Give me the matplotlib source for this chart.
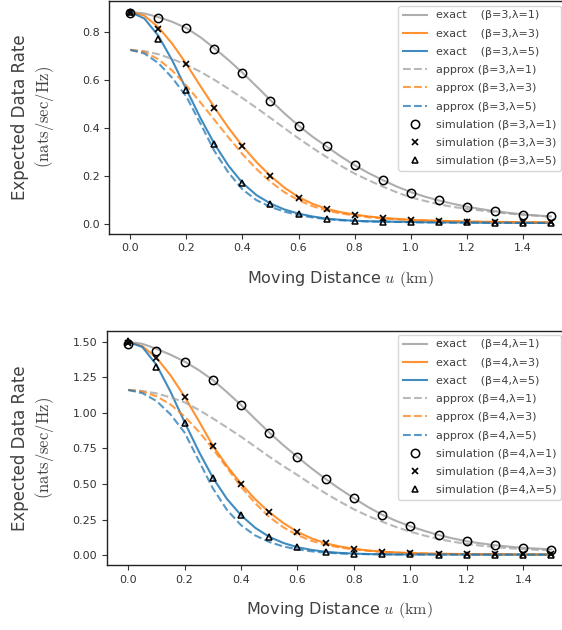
import numpy as np
import matplotlib
matplotlib.use("Agg")
import matplotlib.pyplot as plt
from matplotlib.transforms import blended_transform_factory

plt.rcParams['mathtext.fontset'] = 'cm'

# ---------------- data ----------------
u_curve = [round(0.05 * i, 2) for i in range(31)]
u_sim = [round(0.1 * i, 1) for i in range(16)]

# beta = 3
exact3_l1 = [0.885, 0.879, 0.864, 0.844, 0.818, 0.780, 0.734, 0.685, 0.632, 0.575, 0.517,
             0.462, 0.411, 0.365, 0.324, 0.283, 0.246, 0.213, 0.184, 0.157, 0.134,
             0.115, 0.099, 0.085, 0.073, 0.063, 0.054, 0.047, 0.041, 0.036, 0.032]
exact3_l3 = [0.885, 0.870, 0.822, 0.752, 0.668, 0.576, 0.487, 0.402, 0.326, 0.259, 0.201,
             0.152, 0.113, 0.085, 0.064, 0.050, 0.040, 0.032, 0.026, 0.022, 0.018,
             0.016, 0.014, 0.012, 0.011, 0.010, 0.009, 0.009, 0.008, 0.008, 0.007]
exact3_l5 = [0.885, 0.858, 0.786, 0.682, 0.562, 0.443, 0.335, 0.244, 0.172, 0.121, 0.086,
             0.061, 0.044, 0.032, 0.023, 0.018, 0.014, 0.012, 0.011, 0.010, 0.009,
             0.008, 0.008, 0.007, 0.007, 0.006, 0.006, 0.006, 0.005, 0.005, 0.005]
approx3_l1 = [0.727, 0.722, 0.709, 0.689, 0.665, 0.636, 0.602, 0.565, 0.526, 0.485, 0.443,
              0.400, 0.358, 0.318, 0.280, 0.244, 0.211, 0.183, 0.157, 0.133, 0.112,
              0.097, 0.083, 0.072, 0.064, 0.057, 0.050, 0.044, 0.039, 0.035, 0.031]
approx3_l3 = [0.727, 0.718, 0.688, 0.640, 0.578, 0.508, 0.435, 0.362, 0.292, 0.230, 0.177,
              0.133, 0.100, 0.075, 0.057, 0.045, 0.036, 0.029, 0.024, 0.020, 0.017,
              0.015, 0.013, 0.012, 0.011, 0.010, 0.009, 0.008, 0.008, 0.007, 0.007]
approx3_l5 = [0.727, 0.712, 0.672, 0.610, 0.532, 0.420, 0.305, 0.215, 0.145, 0.100, 0.072,
              0.052, 0.038, 0.028, 0.021, 0.016, 0.013, 0.011, 0.010, 0.009, 0.008,
              0.007, 0.007, 0.006, 0.006, 0.006, 0.005, 0.005, 0.005, 0.005, 0.005]
sim3_l1 = [0.880, 0.859, 0.818, 0.732, 0.632, 0.515, 0.409, 0.326, 0.245, 0.185, 0.131,
           0.100, 0.071, 0.053, 0.040, 0.033]
sim3_l3 = [0.882, 0.815, 0.667, 0.486, 0.326, 0.202, 0.110, 0.064, 0.040, 0.026, 0.018,
           0.014, 0.011, 0.010, 0.008, 0.007]
sim3_l5 = [0.884, 0.771, 0.559, 0.334, 0.171, 0.086, 0.043, 0.022, 0.014, 0.011, 0.008,
           0.007, 0.007, 0.005, 0.005, 0.005]

# beta = 4
exact4_l1 = [1.500, 1.487, 1.452, 1.410, 1.362, 1.302, 1.232, 1.147, 1.056, 0.958, 0.862,
             0.773, 0.690, 0.610, 0.535, 0.465, 0.400, 0.338, 0.284, 0.240, 0.202,
             0.170, 0.141, 0.117, 0.097, 0.082, 0.069, 0.059, 0.051, 0.045, 0.040]
exact4_l3 = [1.500, 1.470, 1.390, 1.265, 1.115, 0.945, 0.770, 0.627, 0.502, 0.393, 0.301,
             0.225, 0.163, 0.117, 0.083, 0.060, 0.044, 0.032, 0.024, 0.018, 0.014,
             0.011, 0.009, 0.008, 0.007, 0.006, 0.005, 0.005, 0.004, 0.004, 0.004]
exact4_l5 = [1.500, 1.465, 1.340, 1.150, 0.935, 0.730, 0.545, 0.395, 0.280, 0.192, 0.128,
             0.085, 0.055, 0.036, 0.023, 0.015, 0.010, 0.007, 0.005, 0.004, 0.004,
             0.004, 0.004, 0.004, 0.003, 0.003, 0.003, 0.003, 0.003, 0.003, 0.003]
approx4_l1 = [1.162, 1.155, 1.138, 1.110, 1.075, 1.022, 0.962, 0.898, 0.833, 0.763, 0.692,
              0.626, 0.563, 0.497, 0.434, 0.376, 0.322, 0.275, 0.235, 0.197, 0.164,
              0.137, 0.113, 0.094, 0.078, 0.066, 0.056, 0.048, 0.042, 0.037, 0.033]
approx4_l3 = [1.162, 1.150, 1.118, 1.060, 0.975, 0.870, 0.748, 0.615, 0.480, 0.365, 0.268,
              0.195, 0.140, 0.100, 0.072, 0.053, 0.040, 0.030, 0.022, 0.017, 0.013,
              0.010, 0.008, 0.007, 0.006, 0.005, 0.005, 0.004, 0.004, 0.004, 0.004]
approx4_l5 = [1.162, 1.140, 1.085, 0.990, 0.862, 0.665, 0.470, 0.318, 0.210, 0.138, 0.092,
              0.060, 0.040, 0.026, 0.017, 0.011, 0.008, 0.006, 0.005, 0.004, 0.004,
              0.004, 0.004, 0.003, 0.003, 0.003, 0.003, 0.003, 0.003, 0.003, 0.003]
sim4_l1 = [1.486, 1.439, 1.361, 1.232, 1.054, 0.861, 0.692, 0.535, 0.401, 0.282, 0.202,
           0.141, 0.096, 0.068, 0.052, 0.035]
sim4_l3 = [1.495, 1.385, 1.115, 0.768, 0.502, 0.301, 0.162, 0.082, 0.044, 0.023, 0.014,
           0.008, 0.006, 0.005, 0.004, 0.004]
sim4_l5 = [1.505, 1.326, 0.932, 0.545, 0.279, 0.127, 0.054, 0.021, 0.008, 0.005, 0.004,
           0.003, 0.003, 0.003, 0.003, 0.003]

lambdas = [1, 3, 5]
xticks = [0.0, 0.2, 0.4, 0.6, 0.8, 1.0, 1.2, 1.4]
yticks_top = [0.0, 0.2, 0.4, 0.6, 0.8]
yticks_bot = [0.00, 0.25, 0.50, 0.75, 1.00, 1.25, 1.50]

# ---------------- style ----------------
colors = ['#a0a0a0', '#ff7f0e', '#1f77b4']
sim_markers = ['o', 'x', '^']
text_col = '#404040'
tick_col = '#333333'

fig = plt.figure(figsize=(5.62, 6.3), dpi=100)
ax_top = fig.add_axes([0.1945, 0.6290, 0.8230, 0.3694])
ax_bot = fig.add_axes([0.1904, 0.1032, 0.8285, 0.3714])


def draw(ax, beta, exact, approx, sims, yticks, yfmt, leg_anchor):
    for lam, yv, c in zip(lambdas, exact, colors):
        ax.plot(u_curve, yv, '-', color=c, lw=1.5, alpha=0.85,
                label=f'exact    (β={beta},λ={lam})')
    for lam, yv, c in zip(lambdas, approx, colors):
        ax.plot(u_curve, yv, '--', color=c, lw=1.5, alpha=0.75,
                label=f'approx (β={beta},λ={lam})')
    for lam, yv, m in zip(lambdas, sims, sim_markers):
        if m == 'x':
            ax.plot(u_sim, yv, linestyle='none', marker=m, color='black',
                    markersize=5, markeredgewidth=1.2,
                    label=f'simulation (β={beta},λ={lam})')
        else:
            ax.plot(u_sim, yv, linestyle='none', marker=m, markerfacecolor='none',
                    markeredgecolor='black', markersize=6 if m == 'o' else 5,
                    markeredgewidth=1.1,
                    label=f'simulation (β={beta},λ={lam})')
    ax.set_xticks(xticks)
    ax.set_yticks(yticks)
    ax.set_yticklabels([yfmt % v for v in yticks])
    ax.tick_params(labelsize=8, colors=tick_col, labelcolor=tick_col)
    for sp in ax.spines.values():
        sp.set_color('#222222')
        sp.set_linewidth(1.0)
    ax.set_xlabel('Moving Distance $u$ $\\mathrm{(km)}$', fontsize=11.5,
                  color=text_col, labelpad=11)
    ax.set_ylabel('Expected Data Rate\n$\\mathrm{(nats/sec/Hz)}$', fontsize=12,
                  color=text_col, linespacing=1.25)
    ax.yaxis.set_label_coords(56 / 562, 0.5,
                              transform=blended_transform_factory(fig.transFigure, ax.transAxes))
    leg = ax.legend(loc='upper right', fontsize=8, handlelength=2.2,
                    labelspacing=0.74, borderaxespad=0.0, framealpha=0.8,
                    bbox_to_anchor=leg_anchor, bbox_transform=fig.transFigure)
    for t in leg.get_texts():
        t.set_color(text_col)


draw(ax_top, 3, [exact3_l1, exact3_l3, exact3_l5],
     [approx3_l1, approx3_l3, approx3_l5],
     [sim3_l1, sim3_l3, sim3_l5], yticks_top, '%.1f', (561 / 562, 1 - 6 / 630))
draw(ax_bot, 4, [exact4_l1, exact4_l3, exact4_l5],
     [approx4_l1, approx4_l3, approx4_l5],
     [sim4_l1, sim4_l3, sim4_l5], yticks_bot, '%.2f', (561 / 562, 1 - 335 / 630))

ax_top.set_xlim(-0.075, 1.575)
ax_bot.set_xlim(-0.075, 1.575)
ax_top.set_ylim(-0.040, 0.931)
ax_bot.set_ylim(-0.070, 1.577)

fig.savefig('out.png', dpi=100)
